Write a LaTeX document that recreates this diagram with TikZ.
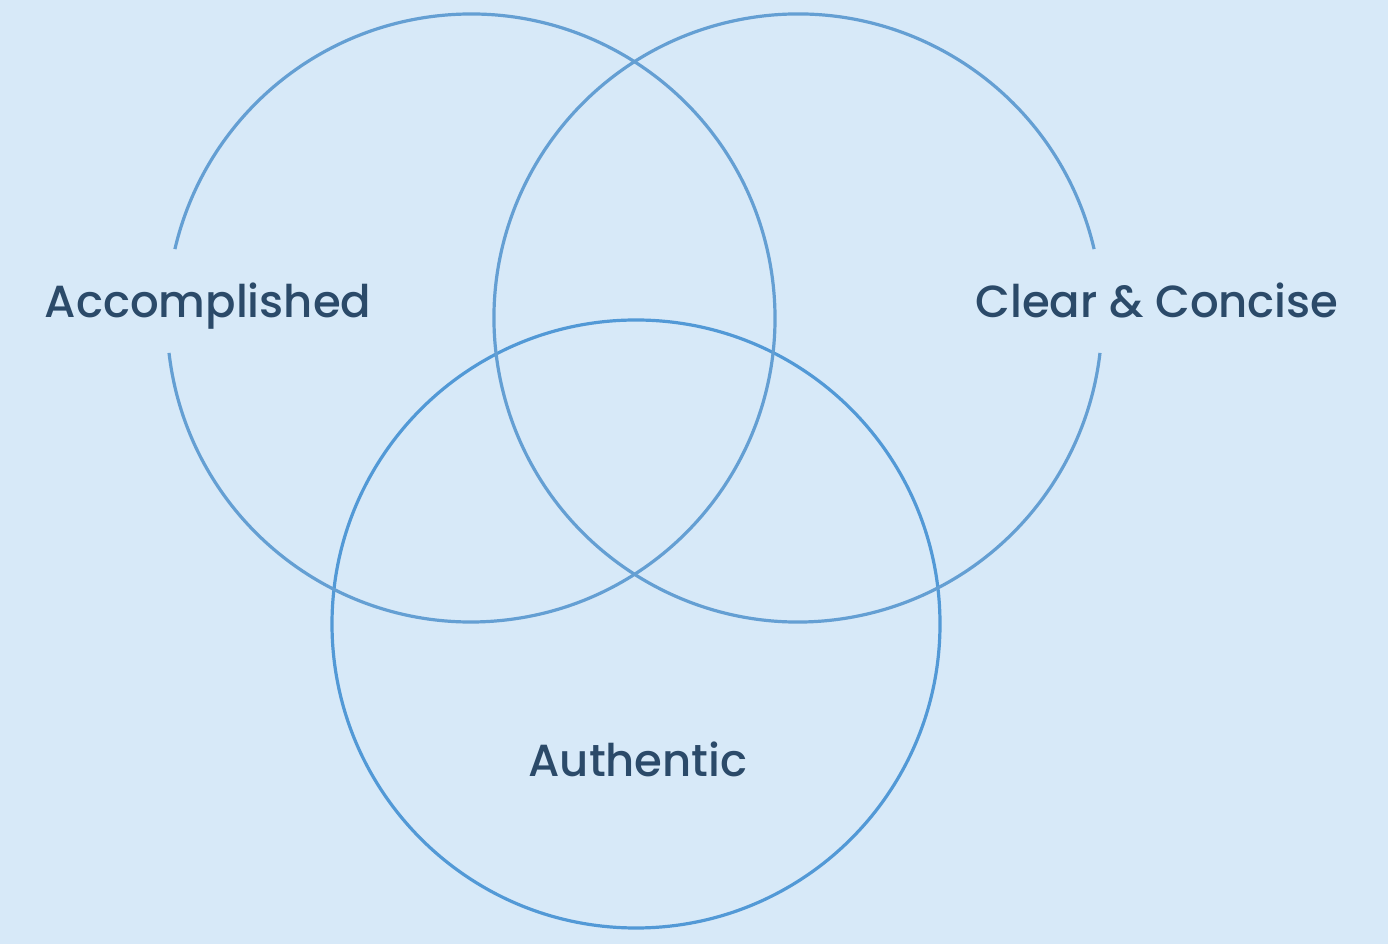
\documentclass[tikz,border=0pt]{standalone}
\usepackage{fontspec}
\setmainfont{Poppins}[UprightFont=* Medium]
\definecolor{bg}{HTML}{D7E9F8}
\definecolor{ringA}{HTML}{649FD3}
\definecolor{ringB}{HTML}{5299D6}
\definecolor{txt}{HTML}{2B4A69}
\tikzset{
  ring/.style={line width=3.2pt, draw=ringA},
  ringbottom/.style={line width=3.2pt, draw=ringB, circle, minimum size=608pt, inner sep=0pt},
  lbl/.style={text=txt, font=\fontsize{45}{54}\selectfont, inner sep=0pt, anchor=base}
}
\begin{document}
\begin{tikzpicture}[x=1pt,y=1pt]
\fill[bg] (0,0) rectangle (1388,944);
\useasboundingbox (0,0) rectangle (1388,944);
\node[ringbottom] (auth) at (636,320) {};
\draw[ring] (471,626) ++(186.6:304) arc[start angle=186.6, end angle=526.9, radius=304];
\draw[ring] (798,626) ++(13.1:304) arc[start angle=13.1, end angle=353.4, radius=304];
\node[lbl] (acc) at (208,626) {Accomplished};
\node[lbl] (clear) at (1157,626) {Clear \& Concise};
\node[lbl] (authl) at (638,167) {Authentic};
\end{tikzpicture}
\end{document}
